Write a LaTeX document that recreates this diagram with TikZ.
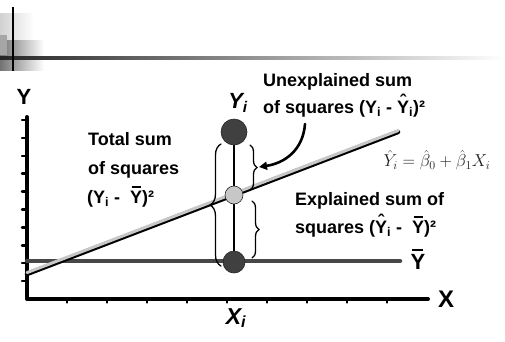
\documentclass[tikz,border=0pt]{standalone}
\usepackage{fontspec}
\setmainfont{Liberation Sans}
\usetikzlibrary{arrows.meta,decorations.pathreplacing,positioning}

\tikzset{
  lbl/.style={font=\fontsize{18}{20}\selectfont\bfseries,inner sep=0pt,anchor=base west},
  axlbl/.style={font=\fontsize{22}{24}\selectfont\bfseries,inner sep=0pt},
  obs/.style={circle,inner sep=0pt,draw=black!85,line width=0.6pt},
  brc/.style={decorate,decoration={brace,amplitude=#1},line width=1.3pt},
}
\newcommand{\ybar}{\leavevmode\rlap{\kern0.08em\rule[0.84em]{0.5em}{0.09em}}Y}
\newcommand{\yhat}{\leavevmode\rlap{\kern0.16em\raisebox{0.32em}{ˆ}}Y}

\begin{document}
\begin{tikzpicture}[x=1pt,y=-1pt,>=Latex,line cap=round]
  \useasboundingbox (0,0) rectangle (505,341);
  % slide corner
  \fill[left color=black!18,right color=white] (0,13) rectangle (34,70);
  \fill[left color=black!55,right color=white] (0,40) rectangle (44,70);
  \fill[black!35] (0,35) rectangle (7,55);
  \shade[left color=black!85,right color=white] (0,56.8) rectangle (505,59.6);
  \draw[line width=1.5pt,line cap=butt] (13,7) -- (13,71);

  % axes
  \coordinate (O) at (27,299);
  \coordinate (ytop) at (27,117);
  \coordinate (xend) at (428,299);
  \draw[line width=4pt,line join=round] (ytop) -- (O) -- (xend);
  \foreach \x in {67,107,...,387}
    \draw[line width=2.5pt] (\x,300) -- (\x,302.5);
  \foreach \y in {120,137.9,...,282}
    \draw[line width=2.5pt] (26,\y) -- (22,\y);
  \node[axlbl] (ylab) at (24,97) {Y};
  \node[axlbl,font=\fontsize{24}{26}\selectfont\bfseries] (xlab) at (446,299) {X};

  % mean and fitted lines
  \coordinate (m0) at (27,261);
  \coordinate (m1) at (400,261);
  \draw[black!72,line width=4.5pt] (m0) -- (m1);
  \node[axlbl] (ybarlab) at (418,259) {\ybar};
  \coordinate (r0) at (27,274);
  \coordinate (r1) at (398,132);
  \draw[line width=4.5pt] (r0) -- (r1);
  \draw[black!22,line width=3pt] (27,272.6) -- (398,130.6);

  % observation at X_i
  \coordinate (pyi) at (234,132);
  \coordinate (pyh) at (234,195);
  \coordinate (pyb) at (234,262);
  \draw[line width=2pt] (pyi) -- (pyb);
  \node[obs,fill=black!75,minimum size=26pt] (yi) at (pyi) {};
  \node[obs,fill=black!22,minimum size=18pt] (yh) at (pyh) {};
  \node[obs,fill=black!75,minimum size=22pt] (yb) at (pyb) {};
  \node[axlbl,font=\fontsize{22}{24}\selectfont\bfseries\itshape] (yilab) at (238,103) {Y\textsubscript{i}};
  \node[axlbl,font=\fontsize{23}{25}\selectfont\bfseries\itshape] (xilab) at (236,318) {X\textsubscript{i}};

  % braces
  \draw[brc=11pt] (221,266) -- (221,144);
  \draw[brc=7pt] (250,145) -- (250,190);
  \draw[brc=7pt] (252,201) -- (252,258);

  % arrow to the upper brace
  \coordinate (arrS) at (305,124);
  \coordinate (arrE) at (259,167);
  \draw[line width=2.6pt,-{Triangle[length=8pt,width=8pt]}]
    (arrS) .. controls (303,150) and (285,163) .. (arrE);

  % texts
  \node[lbl] (un1) at (263,86) {Unexplained sum};
  \node[lbl] (un2) at (263,113) {of squares (Y\textsubscript{i} - \yhat\textsubscript{i})²};
  \node[lbl] (tot1) at (88,145) {Total sum};
  \node[lbl] (tot2) at (88,174) {of squares};
  \node[lbl] (tot3) at (87,203) {(Y\textsubscript{i} -\ \ \ybar)²};
  \node[lbl] (ex1) at (295,205) {Explained sum of};
  \node[lbl] (ex2) at (295,233) {squares (\yhat\textsubscript{i} -\ \ \ybar)²};
  \node[black!88,font=\fontsize{17}{19}\selectfont] (eq) at (437,160)
    {$\hat{Y}_i = \hat{\beta}_0 + \hat{\beta}_1 X_i$};
\end{tikzpicture}
\end{document}
